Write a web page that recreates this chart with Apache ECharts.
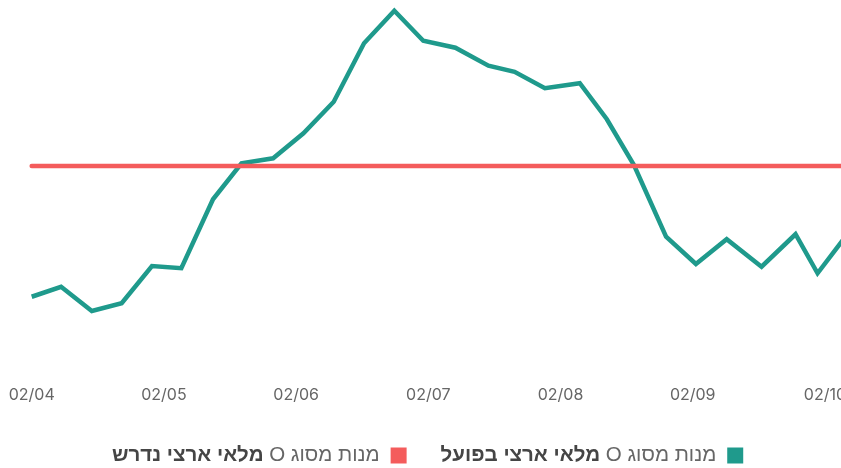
<!DOCTYPE html>
<html>
<head>
<meta charset="utf-8">
<script src="https://cdn.jsdelivr.net/npm/echarts@6/dist/echarts.min.js"></script>
<style>
  html, body { margin: 0; padding: 0; background: #fff; }
  #main { width: 841px; height: 468px; }
</style>
</head>
<body>
<div id="main"></div>
<script>
// זמני מדידה (מלאי בפועל)
var times = [
  "2024-02-04 00:00", "2024-02-04 05:20", "2024-02-04 10:55", "2024-02-04 16:20",
  "2024-02-04 21:50", "2024-02-05 03:10", "2024-02-05 08:55", "2024-02-05 14:05",
  "2024-02-05 19:50", "2024-02-06 01:20", "2024-02-06 06:50", "2024-02-06 12:20",
  "2024-02-06 17:50", "2024-02-06 23:05", "2024-02-07 04:55", "2024-02-07 10:55",
  "2024-02-07 15:40", "2024-02-07 21:10", "2024-02-08 03:30", "2024-02-08 08:25",
  "2024-02-08 13:20", "2024-02-08 19:10", "2024-02-09 00:35", "2024-02-09 06:10",
  "2024-02-09 12:30", "2024-02-09 18:40", "2024-02-09 22:40", "2024-02-10 04:10"
];
var actualValues = [
  313, 353, 256, 287, 436, 427, 703, 847, 867, 967, 1093, 1327, 1457, 1337,
  1309, 1237, 1213, 1147, 1167, 1023, 840, 553, 444, 543, 433, 563, 407, 566
];
var requiredTimes = ["2024-02-04 00:00", "2024-02-11 00:00"];
var requiredValue = 836;

var actualName = "מלאי ארצי בפועל";
var requiredName = "מלאי ארצי נדרש";

var toTs = function(s) {
  var p = s.split(/[- :]/);
  return Date.UTC(+p[0], +p[1] - 1, +p[2], +p[3], +p[4]);
};

var actualData = times.map(function(t, i) {
  return [toTs(t), actualValues[i]];
});
var requiredData = requiredTimes.map(function(t) {
  return [toTs(t), requiredValue];
});

var myChart = echarts.init(document.getElementById("main"));
var option = {
  animation: false,
  useUTC: true,
  grid: {
    left: 31.7,
    width: 925.4,
    top: 0,
    height: 375,
    outerBoundsMode: "none"
  },
  legend: {
    data: [requiredName, actualName],
    left: 107,
    bottom: -3,
    align: "right",
    icon: "rect",
    itemWidth: 16,
    itemHeight: 16,
    itemGap: 34,
    formatter: function(name) {
      return "{b|" + name + "}{n| O }{n|מנות מסוג}{g|}";
    },
    textStyle: {
      rich: {
        b: {
          fontFamily: "Liberation Sans",
          fontSize: 20.5,
          fontWeight: "bold",
          color: "#454545"
        },
        n: {
          fontFamily: "Liberation Sans",
          fontSize: 20.5,
          color: "#666"
        },
        g: { width: 6 }
      }
    }
  },
  xAxis: {
    type: "time",
    min: toTs("2024-02-04 00:00"),
    max: toTs("2024-02-11 00:00"),
    minInterval: 86400000,
    maxInterval: 86400000,
    axisLine: { show: false },
    axisTick: { show: false },
    splitLine: { show: false },
    axisLabel: {
      margin: 12,
      color: "#666",
      fontFamily: "Inter",
      fontSize: 16,
      hideOverlap: false,
      formatter: function(v) {
        var d = new Date(v);
        var mm = ("0" + (d.getUTCMonth() + 1)).slice(-2);
        var dd = ("0" + d.getUTCDate()).slice(-2);
        return mm + "/" + dd;
      }
    }
  },
  yAxis: {
    type: "value",
    min: 0,
    max: 1500,
    show: false,
    splitLine: { show: false }
  },
  series: [
    {
      name: actualName,
      type: "line",
      data: actualData,
      showSymbol: false,
      symbol: "none",
      color: "#1f9a8c",
      lineStyle: { width: 4.5, color: "#1f9a8c", join: "miter" }
    },
    {
      name: requiredName,
      type: "line",
      data: requiredData,
      showSymbol: false,
      symbol: "none",
      color: "#f45c5c",
      lineStyle: { width: 4.5, color: "#f45c5c", cap: "round" }
    }
  ]
};
myChart.setOption(option);
</script>
</body>
</html>
